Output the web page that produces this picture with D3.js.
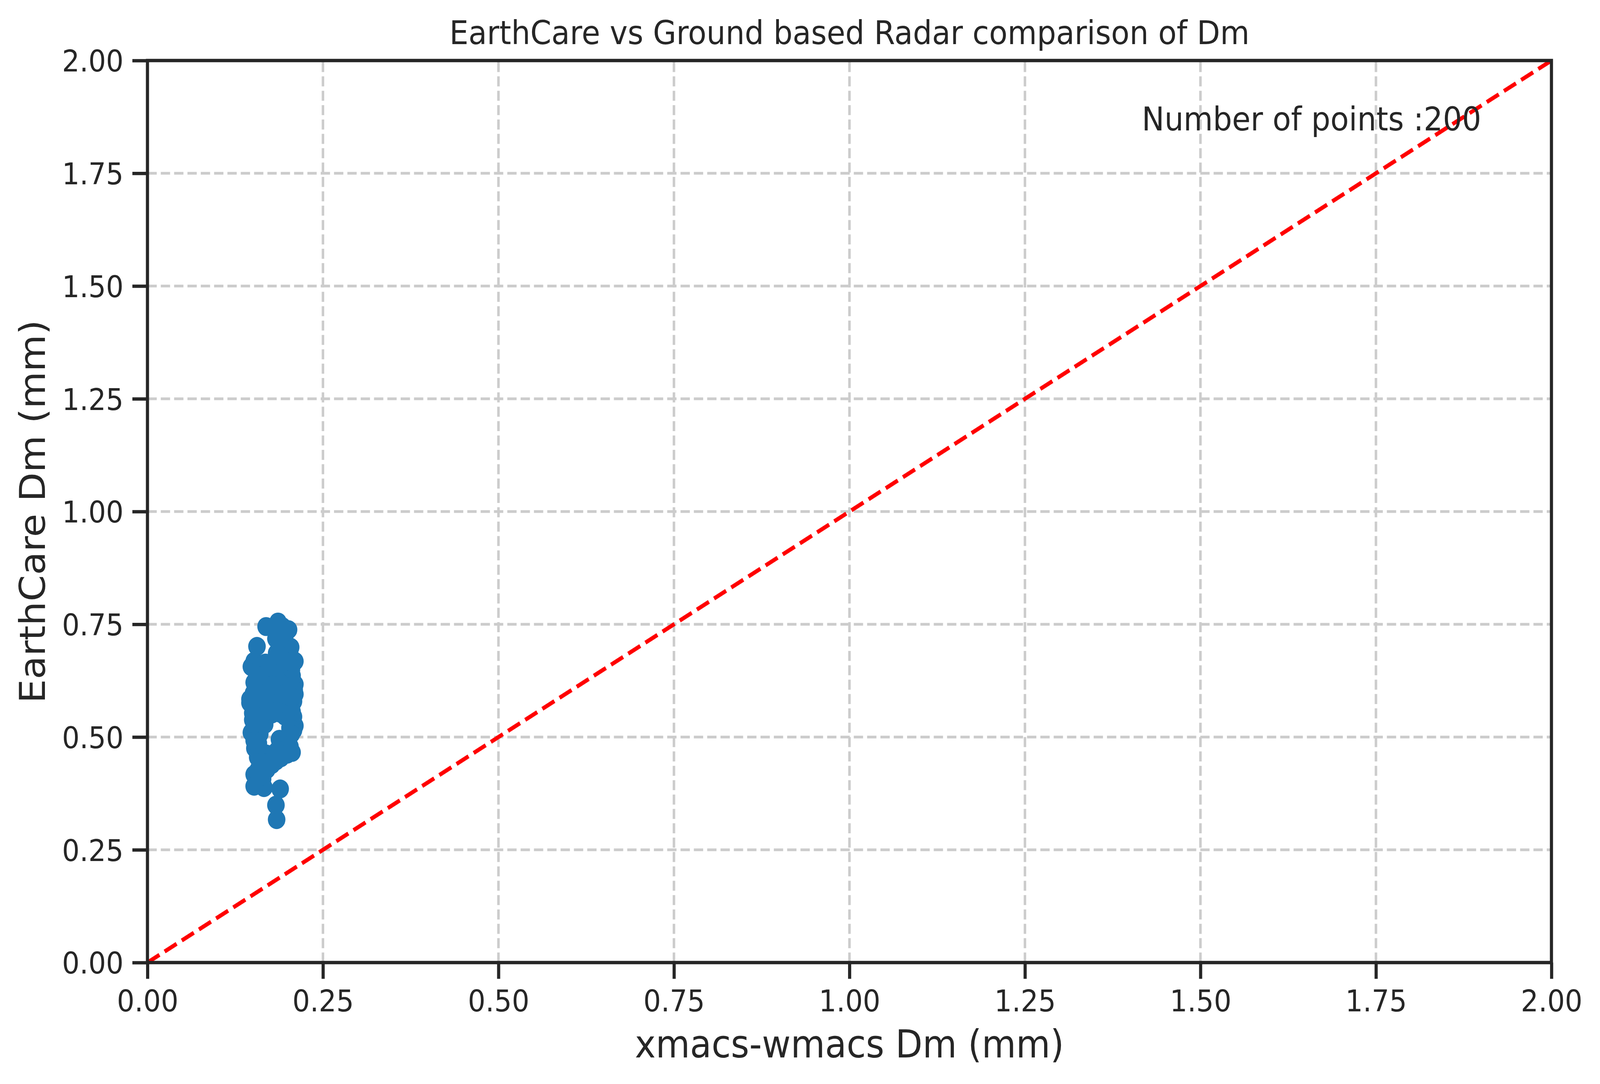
<!DOCTYPE html>
<html>
<head>
<meta charset="utf-8">
<script src="https://cdn.jsdelivr.net/npm/d3@7"></script>
<style>
  html, body { margin: 0; padding: 0; background: #ffffff; width: 100%; height: 100%; overflow: hidden; }
  svg { display: block; width: 100vw; height: 100vh; }
</style>
</head>
<body>
<svg id="chart" viewBox="0 0 4416 2776" preserveAspectRatio="none"></svg>
<script>
// ---------------- data ----------------
const titleText = "EarthCare vs Ground based Radar comparison of Dm";
const xLabelText = "xmacs-wmacs Dm (mm)";
const yLabelText = "EarthCare Dm (mm)";
const annotationText = "Number of points :200";

const xTicks = [0, 0.25, 0.5, 0.75, 1.0, 1.25, 1.5, 1.75, 2.0];
const yTicks = [0, 0.25, 0.5, 0.75, 1.0, 1.25, 1.5, 1.75, 2.0];
const tickLabels = ["0.00", "0.25", "0.50", "0.75", "1.00", "1.25", "1.50", "1.75", "2.00"];

const identityLine = [[0, 0], [2, 2]];

// xmacs-wmacs Dm (x) and EarthCare Dm (y)
const xmacsDm = [
  0.186,0.169,0.201,0.183,0.204,0.156,0.184,0.210,0.148,0.152,
  0.205,0.210,0.152,0.210,0.146,0.146,0.205,0.150,0.210,0.208,
  0.150,0.148,0.167,0.160,0.188,0.206,0.203,0.190,0.153,0.177,
  0.162,0.152,0.164,0.152,0.166,0.189,0.183,0.184,
  0.190,0.196,
  0.188,0.195,0.199,
  0.192,0.198,0.188,
  0.163,0.172,0.182,0.190,0.197,0.203,
  0.155,0.165,0.176,0.186,0.194,0.200,0.206,
  0.158,0.170,0.180,0.191,0.199,0.207,
  0.154,0.162,0.173,0.184,0.193,0.202,0.209,
  0.151,0.160,0.169,0.179,0.188,0.197,0.204,
  0.155,0.165,0.175,0.185,0.193,0.201,0.208,
  0.152,0.161,0.171,0.181,0.190,0.198,0.206,
  0.157,0.167,0.177,0.189,0.196,0.203,
  0.155,0.160,0.203,0.208,
  0.154,0.157,0.203,0.205,
  0.152,0.158,0.196,0.200,0.193,
  0.160,0.168,0.178,0.185,0.196,0.199,
  0.157,0.166,0.172,0.183,
  0.158,0.170,
  0.158,0.160,
  0.162,0.168,0.177,0.185,0.193,0.199,
  0.160,0.171,0.181,0.189,0.197,
  0.163,0.174,0.184,0.195,0.201,
  0.159,0.167,0.177,0.187,0.198,
  0.164,0.175,0.182,0.191,0.200,
  0.158,0.168,0.178,0.189,0.196,
  0.162,0.172,0.181,0.188,0.199,
  0.159,0.169,0.179,0.186,0.194,
  0.191,0.194,0.187,0.192,0.198,
  0.170,0.179,0.188,0.163,0.174,
  0.156,0.203,0.205,0.204,0.205,
  0.153,0.154,0.156,0.153,0.152,
  0.166,0.185,0.176,0.171,0.183,
  0.190,0.196,0.178,0.194
];
const earthcareDm = [
  0.755,0.745,0.738,0.718,0.699,0.701,0.686,0.668,0.656,0.668,
  0.648,0.617,0.621,0.595,0.584,0.576,0.567,0.553,0.525,0.515,
  0.538,0.510,0.528,0.507,0.495,0.466,0.479,0.454,0.475,0.439,
  0.438,0.417,0.407,0.391,0.388,0.385,0.349,0.317,
  0.731,0.726,
  0.709,0.712,0.703,
  0.693,0.688,0.697,
  0.660,0.655,0.668,0.672,0.676,0.682,
  0.645,0.642,0.648,0.651,0.644,0.657,0.636,
  0.632,0.629,0.634,0.628,0.633,0.624,
  0.606,0.612,0.615,0.610,0.614,0.609,0.605,
  0.597,0.592,0.598,0.594,0.599,0.591,0.598,
  0.578,0.582,0.576,0.583,0.577,0.584,0.579,
  0.563,0.567,0.561,0.566,0.562,0.569,0.556,
  0.548,0.552,0.551,0.553,0.546,0.551,
  0.531,0.541,0.538,0.545,
  0.522,0.515,0.520,0.507,
  0.492,0.486,0.488,0.496,0.482,
  0.470,0.463,0.462,0.470,0.472,0.462,
  0.455,0.448,0.452,0.447,
  0.428,0.428,
  0.400,0.412,
  0.657,0.664,0.659,0.662,0.658,0.664,
  0.650,0.646,0.641,0.638,0.649,
  0.637,0.636,0.627,0.622,0.641,
  0.621,0.619,0.624,0.619,0.617,
  0.603,0.606,0.601,0.604,0.602,
  0.587,0.589,0.586,0.589,0.584,
  0.573,0.570,0.574,0.571,0.575,
  0.558,0.558,0.560,0.558,0.561,
  0.700,0.720,0.738,0.745,0.694,
  0.458,0.452,0.462,0.444,0.444,
  0.560,0.565,0.588,0.626,0.652,
  0.585,0.613,0.637,0.548,0.530,
  0.595,0.595,0.598,0.640,0.655,
  0.680,0.668,0.615,0.595
];

// ---------------- layout ----------------
const W = 4416, H = 2776;
const plot = { left: 407, right: 4282, top: 155, bottom: 2465 };
const PT = 6.94;             // pixels per point
const ink = "#262626";
const font = "'DejaVu Sans', 'Liberation Sans', sans-serif";

const svg = d3.select("#chart");
svg.append("rect").attr("width", W).attr("height", H).attr("fill", "#ffffff");

const x = d3.scaleLinear().domain([0, 2]).range([plot.left, plot.right]);
const y = d3.scaleLinear().domain([0, 2]).range([plot.bottom, plot.top]);

// grid (dashed, light grey), below data
const grid = svg.append("g");
grid.selectAll("line.vg").data(xTicks).enter().append("line")
  .attr("x1", d => x(d)).attr("x2", d => x(d))
  .attr("y1", plot.bottom).attr("y2", plot.top)
  .attr("stroke", "#cccccc").attr("stroke-width", 1 * PT)
  .attr("stroke-dasharray", `${3.7 * PT},${1.6 * PT}`);
grid.selectAll("line.hg").data(yTicks).enter().append("line")
  .attr("x1", plot.left).attr("x2", plot.right)
  .attr("y1", d => y(d)).attr("y2", d => y(d))
  .attr("stroke", "#cccccc").attr("stroke-width", 1 * PT)
  .attr("stroke-dasharray", `${3.7 * PT},${1.6 * PT}`);

// scatter points
const pts = xmacsDm.map((v, i) => [v, earthcareDm[i]]);
svg.append("g").selectAll("circle").data(pts).enter().append("circle")
  .attr("cx", d => x(d[0])).attr("cy", d => y(d[1]))
  .attr("r", 3.5 * PT)
  .attr("fill", "#1f77b4");

// 1:1 line
const lineGen = d3.line().x(d => x(d[0])).y(d => y(d[1]));
svg.append("path").datum(identityLine)
  .attr("d", lineGen)
  .attr("fill", "none")
  .attr("stroke", "#ff0000")
  .attr("stroke-width", 1.5 * PT)
  .attr("stroke-dasharray", `${3.7 * 1.5 * PT},${1.6 * 1.5 * PT}`);

// axes via d3 axis generators
const tickLen = 6 * PT;
const xAxis = d3.axisBottom(x).tickValues(xTicks).tickFormat(d => tickLabels[xTicks.indexOf(d)])
  .tickSizeInner(tickLen).tickSizeOuter(0).tickPadding(3.5 * PT);
const yAxis = d3.axisLeft(y).tickValues(yTicks).tickFormat(d => tickLabels[yTicks.indexOf(d)])
  .tickSizeInner(tickLen).tickSizeOuter(0).tickPadding(3.5 * PT);

const gx = svg.append("g").attr("transform", `translate(0,${plot.bottom})`).call(xAxis);
const gy = svg.append("g").attr("transform", `translate(${plot.left},0)`).call(yAxis);

[gx, gy].forEach(g => {
  g.select(".domain").remove();
  g.selectAll(".tick line").attr("stroke", ink).attr("stroke-width", 1.25 * PT);
  g.selectAll(".tick text")
    .attr("fill", ink)
    .style("font-family", font)
    .style("font-size", (11 * PT) + "px");
});
gx.selectAll(".tick text").attr("dy", null).attr("y", 2590 - plot.bottom);
gy.selectAll(".tick text").attr("dy", null).attr("y", 0.3645 * 11 * PT);

// spines
svg.append("rect")
  .attr("x", plot.left).attr("y", plot.top)
  .attr("width", plot.right - plot.left).attr("height", plot.bottom - plot.top)
  .attr("fill", "none").attr("stroke", ink)
  .attr("stroke-width", 1.25 * PT).attr("stroke-linejoin", "miter");

// title
const cx = (plot.left + plot.right) / 2;
svg.append("text").text(titleText)
  .attr("x", cx).attr("y", 113)
  .attr("text-anchor", "middle")
  .attr("fill", ink).style("font-family", font).style("font-size", (12 * PT) + "px");

// axis labels
svg.append("text").text(xLabelText)
  .attr("x", cx).attr("y", 2708)
  .attr("text-anchor", "middle")
  .attr("fill", ink).style("font-family", font).style("font-size", (14 * PT) + "px");

const cy = (plot.top + plot.bottom) / 2;
svg.append("text").text(yLabelText)
  .attr("transform", `translate(124,${cy}) rotate(-90)`)
  .attr("text-anchor", "middle")
  .attr("fill", ink).style("font-family", font).style("font-size", (14 * PT) + "px");

// annotation (data coords 1.9, 1.9, right/top aligned)
svg.append("text").text(annotationText)
  .attr("x", x(1.9)).attr("y", y(1.9) + 0.76 * 12 * PT)
  .attr("text-anchor", "end")
  .attr("fill", ink).style("font-family", font).style("font-size", (12 * PT) + "px");
</script>
</body>
</html>
